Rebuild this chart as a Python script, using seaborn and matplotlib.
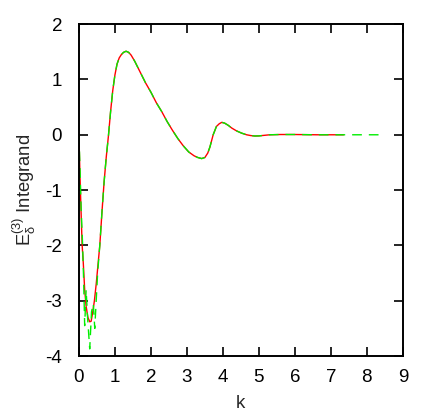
import matplotlib
matplotlib.use("Agg")
import matplotlib.pyplot as plt
import seaborn as sns
import pandas as pd

# red solid curve
red_k = [0, 0.03, 0.06, 0.09, 0.12, 0.16, 0.2, 0.25, 0.3, 0.34, 0.38, 0.43, 0.48, 0.53,
         0.58, 0.64, 0.7, 0.76, 0.82, 0.88, 0.94, 1.0, 1.06, 1.12, 1.18, 1.24, 1.31, 1.38,
         1.45, 1.55, 1.65, 1.75, 1.85, 2.0, 2.15, 2.3, 2.45, 2.6, 2.75, 2.9, 3.05, 3.2,
         3.3, 3.41, 3.5, 3.58, 3.64, 3.73, 3.82, 3.9, 3.97, 4.05, 4.15, 4.25, 4.38, 4.52,
         4.66, 4.78, 4.89, 5.0, 5.15, 5.3, 5.6, 6.0, 6.6, 7.35]
red_y = [0, -0.75, -1.4, -2.0, -2.3, -2.8, -3.1, -3.3, -3.38, -3.37, -3.22, -3.0, -2.7, -2.35,
         -2.0, -1.4, -0.85, -0.4, -0.02, 0.42, 0.8, 1.08, 1.28, 1.39, 1.45, 1.49, 1.51, 1.49,
         1.44, 1.33, 1.2, 1.07, 0.94, 0.77, 0.58, 0.42, 0.24, 0.08, -0.07, -0.2, -0.31, -0.38,
         -0.41, -0.43, -0.41, -0.33, -0.22, 0.0, 0.15, 0.2, 0.225, 0.21, 0.17, 0.12, 0.07, 0.03,
         0.0, -0.015, -0.022, -0.02, -0.01, 0.0, 0.005, 0.005, 0.0, 0.0]

# green dashed curve: noisy near the minimum, then same shape, runs further out
green_head_k = [0, 0.03, 0.06, 0.1, 0.13, 0.16, 0.2, 0.24, 0.3, 0.35, 0.4, 0.44, 0.52, 0.58]
green_head_y = [0, -0.6, -1.3, -1.95, -2.6, -3.45, -2.8, -3.3, -3.87, -3.2, -3.05, -3.5, -2.5, -2.0]
green_tail_k = [7.8, 8.4]
green_tail_y = [0.0, 0.0]

x_ticks = [0, 1, 2, 3, 4, 5, 6, 7, 8, 9]
y_ticks = [-4, -3, -2, -1, 0, 1, 2]

sns.set_style("ticks")
plt.rcParams["font.family"] = ["Liberation Sans", "DejaVu Sans"]
plt.rcParams["mathtext.fontset"] = "custom"
plt.rcParams["mathtext.rm"] = "Liberation Sans"
plt.rcParams["mathtext.it"] = "Liberation Sans:italic"
plt.rcParams["mathtext.default"] = "regular"

red = pd.DataFrame({"k": red_k, "val": red_y})
green = pd.DataFrame({
    "k": green_head_k + red_k[15:] + green_tail_k,
    "val": green_head_y + red_y[15:] + green_tail_y,
})

fig = plt.figure(figsize=(4.36, 4.16), dpi=100)
ax = fig.add_axes([0.181, 0.144, 0.743, 0.798])

sns.lineplot(data=red, x="k", y="val", ax=ax, color="#ff0000", lw=1.0,
             sort=False, estimator=None)
sns.lineplot(data=green, x="k", y="val", ax=ax, color="#00ee00", lw=1.0,
             sort=False, estimator=None)
ax.lines[-1].set_dashes([7, 5])

ax.set_xlim(0, 9)
ax.set_ylim(-4, 2)
ax.set_xticks(x_ticks)
ax.set_yticks(y_ticks)
ax.set_xticklabels([str(t) for t in x_ticks])
ax.set_yticklabels([str(t) for t in y_ticks])

for sp in ax.spines.values():
    sp.set_visible(True)
    sp.set_linewidth(1.4)
    sp.set_color("black")
ax.tick_params(direction="in", length=6.5, width=1.2, top=True, right=True,
               labelsize=13.5, colors="black")
ax.tick_params(axis="x", pad=9)
ax.tick_params(axis="y", pad=12)

ax.set_xlabel("k", fontsize=13.5, labelpad=7)
ax.set_ylabel(r"$E_{\delta}^{(3)}$ Integrand", fontsize=13.2, labelpad=5)

fig.savefig("out.png", dpi=100)
